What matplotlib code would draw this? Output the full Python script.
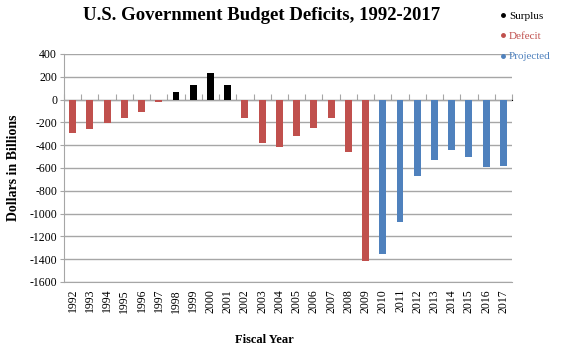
import matplotlib
matplotlib.use("Agg")
import matplotlib.pyplot as plt
import numpy as np
from matplotlib.lines import Line2D

years = list(range(1992, 2018))
balance = [-290, -255, -203, -164, -107, -22, 69, 126, 236, 128,
           -158, -378, -413, -318, -248, -161, -459, -1413,
           -1350, -1070, -667, -526, -441, -506, -588, -582]
kind = ["Defecit"] * 6 + ["Surplus"] * 4 + ["Defecit"] * 8 + ["Projected"] * 8
colors = {"Surplus": "#000000", "Defecit": "#C0504D", "Projected": "#4F81BD"}
yticks = list(range(-1600, 401, 200))

plt.rcParams['font.family'] = ['Liberation Serif', 'DejaVu Serif']

fig = plt.figure(figsize=(5.7, 3.52), dpi=100)
ax = fig.add_axes([64/570, 1-282/352, (512-64)/570, (282-54)/352])

x = np.arange(len(years))
ax.bar(x, balance, width=0.4, color=[colors[k] for k in kind], zorder=3)

ylo, yhi = yticks[0], yticks[-1]
ax.set_ylim(ylo, yhi)
ax.set_xlim(-0.5, len(years) - 0.5)
ax.set_yticks(yticks)
ax.set_yticklabels([str(v) for v in yticks], fontsize=8.5)
ax.yaxis.grid(True, color="#a6a6a6", linewidth=1, zorder=0)
ax.tick_params(axis='y', length=3, color="#a6a6a6", pad=2)

ax.set_xticks(x)
ax.set_xticklabels([str(y) for y in years], rotation=90, fontsize=8.5)
ax.tick_params(axis='x', length=0, pad=5)

for s in ["top", "right"]:
    ax.spines[s].set_visible(False)
ax.spines["left"].set_color("#a6a6a6")
ax.spines["bottom"].set_color("#a6a6a6")

# zero axis line with category-boundary ticks
zero_pos = (0 - ylo) / (yhi - ylo)
sec = ax.secondary_xaxis(zero_pos)
sec.set_xticks(np.arange(len(years) + 1) - 0.5)
sec.set_xticklabels([])
sec.tick_params(axis='x', length=4, color="#a6a6a6", direction='out')
sec.spines["bottom"].set_color("#a6a6a6")

fig.text(262/570, 1-16/352, "U.S. Government Budget Deficits, 1992-2017",
         fontsize=13.5, fontweight='bold', ha='center', va='center')
fig.text(264/570, 1-340/352, "Fiscal Year", fontsize=9, fontweight='bold',
         ha='center', va='center')
fig.text(14/570, 1-168/352, "Dollars in Billions", fontsize=10, fontweight='bold',
         rotation=90, ha='center', va='center')

handles = [Line2D([], [], marker='o', linestyle='', markersize=2.5, color=colors[k])
           for k in ["Surplus", "Defecit", "Projected"]]
leg = fig.legend(handles, ["Surplus", "Defecit", "Projected"], loc='upper left',
                 bbox_to_anchor=(491/570, 1-1/352), frameon=False, fontsize=8,
                 handlelength=0.4, handletextpad=0.3, labelspacing=0.95,
                 labelcolor='linecolor')

fig.savefig("out.png", dpi=100)
